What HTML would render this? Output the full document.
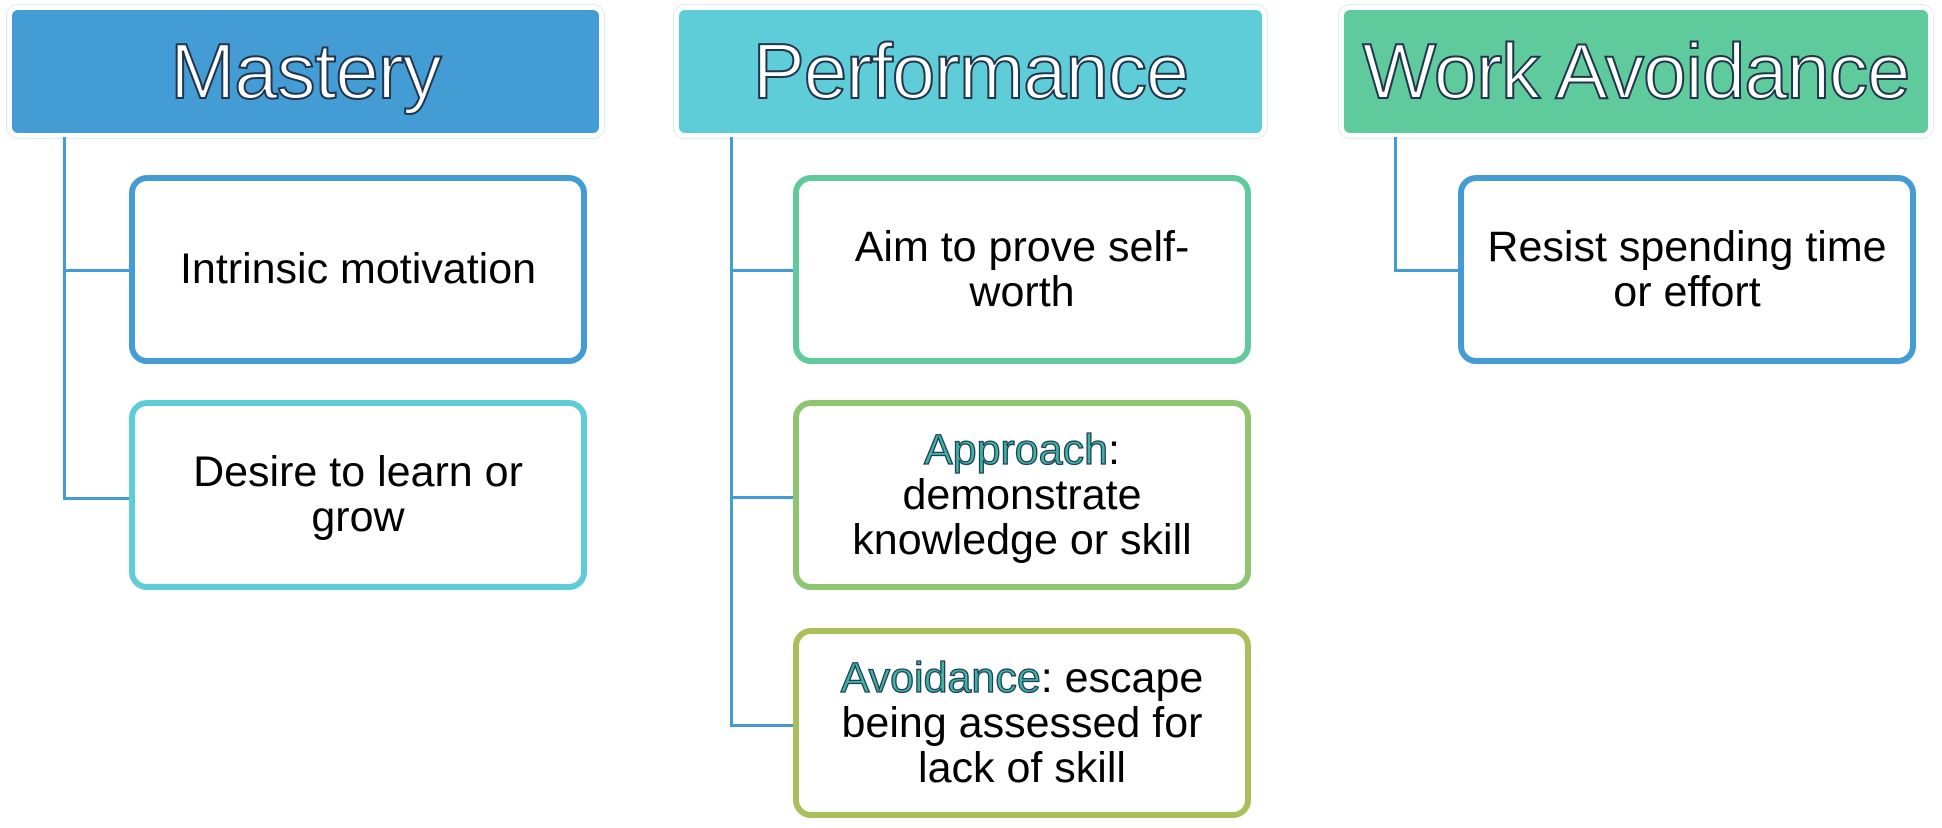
<!DOCTYPE html>
<html><head><style>
body{margin:0;width:1942px;height:828px;background:#fff;position:relative;overflow:hidden;font-family:"Liberation Sans",sans-serif}
.h{position:absolute;top:10px;height:123px;border-radius:6px;box-shadow:0 0 0 5px #fff,0 0 0 6px #d8eef5;display:flex;align-items:center;justify-content:center;color:#fff;font-size:78px;-webkit-text-stroke:2px #1f3550;letter-spacing:-1px}
.c{position:absolute;box-sizing:border-box;background:#fff;border:6px solid;border-radius:18px;display:flex;align-items:center;justify-content:center;text-align:center;font-size:43px;line-height:45px;color:#000;padding:0 6px;white-space:nowrap}
.l{position:absolute;background:#449cd4}
.k{color:#3fb59e;-webkit-text-stroke:1.3px #1f3f60}
</style></head><body>
<div class="h" style="left:12px;width:587px;background:#449cd4">Mastery</div>
<div class="h" style="left:679px;width:583px;background:#5ecdd8">Performance</div>
<div class="h" style="left:1344px;width:584px;background:#5fcb9c">Work Avoidance</div>

<div class="l" style="left:63px;top:137px;width:3px;height:363px"></div>
<div class="l" style="left:63px;top:269px;width:68px;height:3px"></div>
<div class="l" style="left:63px;top:497px;width:68px;height:3px"></div>

<div class="l" style="left:730px;top:137px;width:3px;height:590px"></div>
<div class="l" style="left:730px;top:269px;width:65px;height:3px"></div>
<div class="l" style="left:730px;top:496px;width:65px;height:3px"></div>
<div class="l" style="left:730px;top:724px;width:65px;height:3px"></div>

<div class="l" style="left:1394px;top:137px;width:3px;height:135px"></div>
<div class="l" style="left:1394px;top:269px;width:66px;height:3px"></div>

<div class="c" style="left:129px;top:175px;width:458px;height:189px;border-color:#449cd4">Intrinsic motivation</div>
<div class="c" style="left:129px;top:400px;width:458px;height:190px;border-color:#5ecdd8">Desire to learn or<br>grow</div>

<div class="c" style="left:793px;top:175px;width:458px;height:189px;border-color:#5fcb9c">Aim to prove self-<br>worth</div>
<div class="c" style="left:793px;top:400px;width:458px;height:190px;border-color:#8dc66f"><div><span class="k">Approach</span>:<br>demonstrate<br>knowledge or skill</div></div>
<div class="c" style="left:793px;top:628px;width:458px;height:190px;border-color:#a9bf5a"><div><span class="k">Avoidance</span>: escape<br>being assessed for<br>lack of skill</div></div>

<div class="c" style="left:1458px;top:175px;width:458px;height:189px;border-color:#449cd4">Resist spending time<br>or effort</div>
</body></html>
